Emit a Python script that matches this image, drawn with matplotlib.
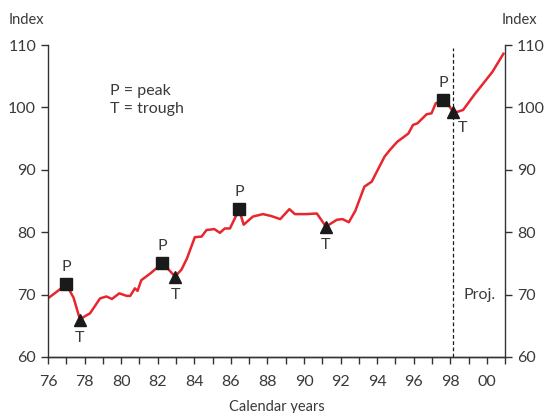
#Index chart with business cycle peaks and troughs, projection marked after 98

import matplotlib.pyplot as plt
from matplotlib.ticker import MultipleLocator, FuncFormatter

#DATA
years = [76.0, 76.5, 77.0, 77.4, 77.75, 78.0, 78.3, 78.85, 79.2, 79.5, 79.9, 80.3,
         80.5, 80.75, 80.9, 81.1, 81.6, 82.25, 82.6, 82.95, 83.3, 83.6, 84.03, 84.4,
         84.67, 85.1, 85.4, 85.67, 85.95, 86.45, 86.7, 87.2, 87.75, 88.2, 88.7, 89.2,
         89.5, 90.13, 90.7, 91.2, 91.8, 92.1, 92.45, 92.8, 93.3, 93.7, 94.4, 94.7,
         95.1, 95.7, 95.96, 96.2, 96.7, 96.97, 97.2, 97.6, 97.9, 98.15, 98.4, 98.7,
         99.3, 99.6, 100.3, 100.9]
index = [69.4, 70.5, 71.65, 69.5, 66.0, 66.5, 67.0, 69.4, 69.7, 69.3, 70.2, 69.8,
         69.8, 71.0, 70.6, 72.3, 73.4, 75.0, 74.0, 72.9, 74.0, 75.8, 79.2, 79.3,
         80.35, 80.5, 79.9, 80.6, 80.6, 83.65, 81.2, 82.5, 82.9, 82.6, 82.1, 83.7,
         82.9, 82.9, 83.0, 80.9, 82.0, 82.1, 81.6, 83.4, 87.3, 88.1, 92.1, 93.2,
         94.5, 95.8, 97.2, 97.45, 98.9, 99.05, 100.65, 101.2, 100.4, 99.3, 99.3, 99.6,
         102.0, 103.1, 105.7, 108.6]

peak_x = [77.0, 82.25, 86.45, 97.6]
peak_y = [71.65, 75.0, 83.65, 101.2]
trough_x = [77.75, 82.95, 91.2, 98.15]
trough_y = [66.0, 72.9, 80.9, 99.3]
proj_start = 98.15

#PLOT
plt.rcParams['font.family'] = ['Lato', 'DejaVu Sans']
txt = '#3a3a3a'
red = '#e8262e'
fs = 11.5

fig = plt.figure(figsize=(5.45, 4.13), dpi=100)
ax = fig.add_axes([0.088, 0.1356, 0.839, 0.7554])
ax.plot(years, index, color=red, lw=1.8, zorder=2)
ax.plot(peak_x, peak_y, 's', color='#1a1a1a', ms=8.5, zorder=3)
ax.plot(trough_x, trough_y, '^', color='#1a1a1a', ms=8, zorder=3)
for x, y in zip(peak_x, peak_y):
    ax.text(x, y + 1.6, 'P', ha='center', va='bottom', fontsize=fs, color=txt)
for x, y in zip(trough_x[:-1], trough_y[:-1]):
    ax.text(x, y - 1.9, 'T', ha='center', va='top', fontsize=fs, color=txt)
ax.text(trough_x[-1] + 0.5, trough_y[-1] - 1.5, 'T', ha='center', va='top', fontsize=fs, color=txt)

ax.vlines(proj_start, 60, 109.6, colors='#1a1a1a', linestyles=(0, (3, 2)), lw=0.9)
ax.text(98.7, 70, 'Proj.', ha='left', va='center', fontsize=fs, color=txt)
ax.text(79.4, 101.2, 'P = peak\nT = trough', ha='left', va='center', fontsize=fs,
        color=txt, linespacing=1.4)

ax.set_xlim(76, 101)
ax.set_ylim(60, 110)
ax.xaxis.set_major_locator(MultipleLocator(2))
ax.xaxis.set_minor_locator(MultipleLocator(1))
ax.xaxis.set_major_formatter(FuncFormatter(lambda v, p: '%02d' % (int(round(v)) % 100)))
ax.yaxis.set_major_locator(MultipleLocator(10))
ax.set_xlabel('Calendar years', fontsize=10.5, color=txt, labelpad=8)

ax2 = ax.twinx()
ax2.set_ylim(60, 110)
ax2.yaxis.set_major_locator(MultipleLocator(10))

for a in (ax, ax2):
    a.spines['top'].set_visible(False)
    for s in a.spines.values():
        s.set_color('#333333')
        s.set_linewidth(1.0)
    a.tick_params(which='both', direction='out', length=5, width=1, colors='#333333',
                  labelsize=fs, labelcolor=txt)
ax.tick_params(axis='x', pad=8)
ax2.spines['left'].set_visible(False)
ax.spines['right'].set_visible(False)

fig.text(0.015, 0.935, 'Index', ha='left', va='bottom', fontsize=10.5, color=txt)
fig.text(0.985, 0.935, 'Index', ha='right', va='bottom', fontsize=10.5, color=txt)

plt.savefig('out.png', dpi=100)
